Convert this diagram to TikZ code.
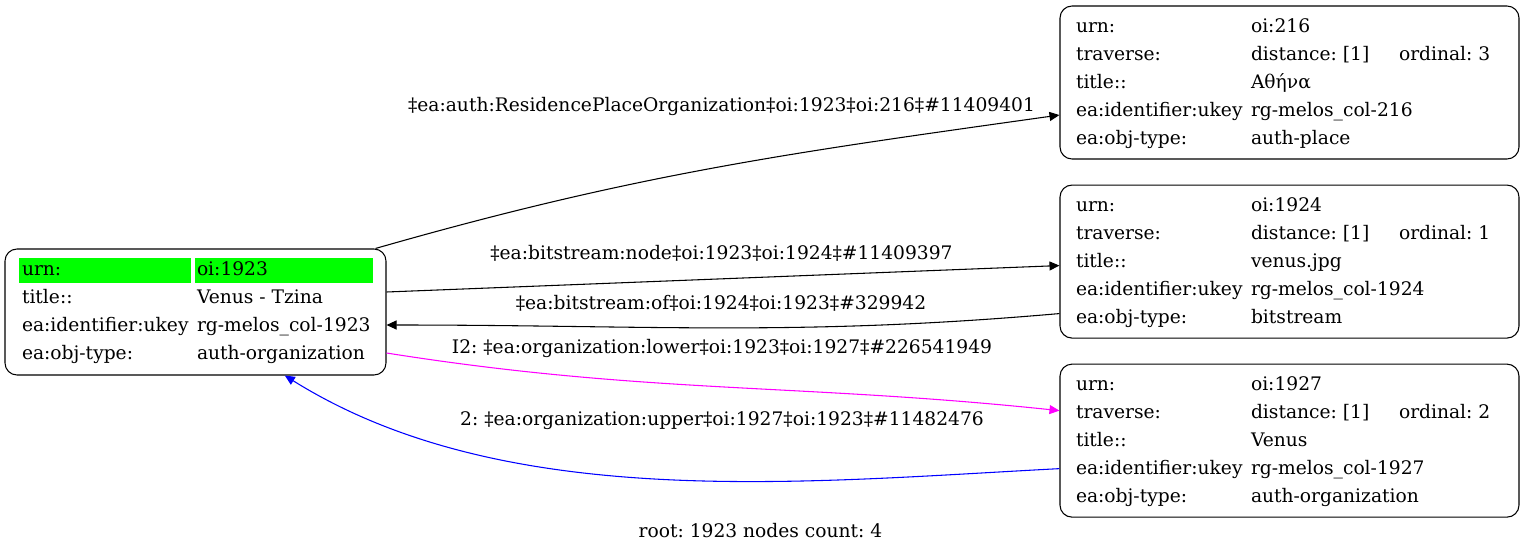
\documentclass[tikz,border=0pt]{standalone}
\usepackage{fontspec}
\setmainfont{DejaVu Serif}
\usepackage{array}
\usetikzlibrary{positioning,arrows.meta,calc}
\definecolor{HiGreen}{RGB}{0,255,0}
\definecolor{LowerEdge}{RGB}{255,0,255}
\definecolor{UpperEdge}{RGB}{0,0,255}
% green background of a highlighted cell
\newcommand{\hlcell}[3]{\makebox[0pt][l]{\hspace{-#1}\textcolor{HiGreen}{\rule[-5.25pt]{#2}{18.75pt}}}#3}

\begin{document}
\frenchspacing
\begin{tikzpicture}[x=0.75pt, y=-0.75pt,
    record/.style={rectangle, rounded corners=9pt, draw=black, line width=0.8pt,
        inner xsep=12pt, inner ysep=0pt, font=\fontsize{14}{21}\selectfont},
    rootrec/.style={record, minimum width=285.75pt, minimum height=94.5pt},
    leafrec/.style={record, minimum width=344.25pt, minimum height=114.75pt},
    edge/.style={-{Triangle[length=7.5pt, width=6.75pt]}, line width=0.8pt},
    elabel/.style={font=\fontsize{14}{17}\selectfont, inner sep=0pt},
]
\useasboundingbox (0,0) rectangle (1524,553);

\node[rootrec] (o1923) at (195.5,312) {%
  \begin{tabular}{@{}w{l}{131.25pt}@{}w{l}{129pt}@{}}
  \hlcell{2.25pt}{129pt}{urn:} & \hlcell{1.5pt}{133.5pt}{oi:1923}\\
  title:: & Venus - Tzina\\
  ea:identifier:ukey & rg-melos\_col-1923\\
  ea:obj-type: & auth-organization
  \end{tabular}};

\node[leafrec] (o216) at (1289.5,82.5) {%
  \begin{tabular}{@{}w{l}{131.25pt}@{}w{l}{111pt}@{}w{l}{78pt}@{}}
  urn: & oi:216 & \\
  traverse: & distance: [1] & ordinal: 3\\
  title:: & Αθήνα & \\
  ea:identifier:ukey & rg-melos\_col-216 & \\
  ea:obj-type: & auth-place &
  \end{tabular}};

\node[leafrec, below=18.75pt of o216] (o1924) {%
  \begin{tabular}{@{}w{l}{131.25pt}@{}w{l}{111pt}@{}w{l}{78pt}@{}}
  urn: & oi:1924 & \\
  traverse: & distance: [1] & ordinal: 1\\
  title:: & venus.jpg & \\
  ea:identifier:ukey & rg-melos\_col-1924 & \\
  ea:obj-type: & bitstream &
  \end{tabular}};

\node[leafrec, below=18.75pt of o1924] (o1927) {%
  \begin{tabular}{@{}w{l}{131.25pt}@{}w{l}{111pt}@{}w{l}{78pt}@{}}
  urn: & oi:1927 & \\
  traverse: & distance: [1] & ordinal: 2\\
  title:: & Venus & \\
  ea:identifier:ukey & rg-melos\_col-1927 & \\
  ea:obj-type: & auth-organization &
  \end{tabular}};

% edges
\draw[edge] ([xshift=-8.25pt]o1923.north east) to[out=16, in=188] ([yshift=-24.4pt]o216.west);
\draw[edge] ([yshift=15pt]o1923.east) -- ([yshift=-3pt]o1924.west);
\draw[edge] ([yshift=-39pt]o1924.west) to[out=185, in=0] ([yshift=-9.75pt]o1923.east);
\draw[edge, LowerEdge] ([yshift=-30.75pt]o1923.east) to[out=-9, in=174] ([yshift=22.5pt]o1927.west);
\draw[edge, UpperEdge] ([yshift=-21pt]o1927.west) to[out=183, in=-32, looseness=0.85] ([xshift=67pt]o1923.south);

% edge labels
\node[elabel] (l216) at (721.5,106) {‡ea:auth:ResidencePlaceOrganization‡oi:1923‡oi:216‡\#11409401};
\node[elabel] (l1924) at (721.5,253) {‡ea:bitstream:node‡oi:1923‡oi:1924‡\#11409397};
\node[elabel] (lof) at (721,303) {‡ea:bitstream:of‡oi:1924‡oi:1923‡\#329942};
\node[elabel] (llower) at (722,348) {I2: ‡ea:organization:lower‡oi:1923‡oi:1927‡\#226541949};
\node[elabel] (lupper) at (722,421) {2: ‡ea:organization:upper‡oi:1927‡oi:1923‡\#11482476};

\node[elabel] (caption) at (760.5,531) {root: 1923 nodes count: 4};
\end{tikzpicture}
\end{document}
